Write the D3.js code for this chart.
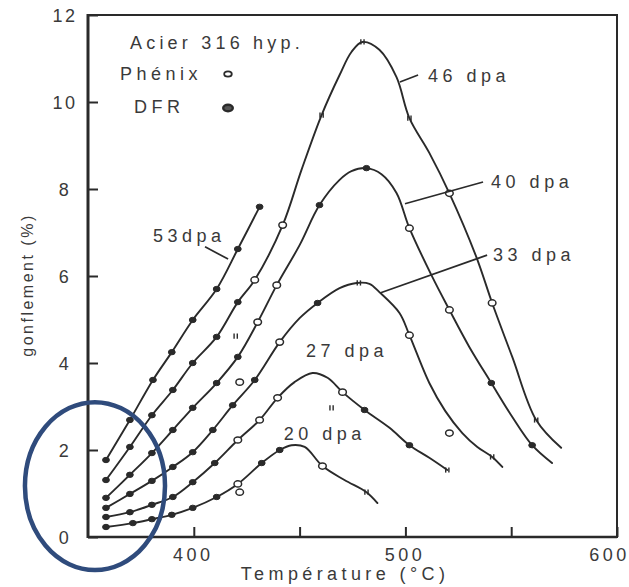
<!DOCTYPE html>
<html>
<head>
<meta charset="utf-8">
<script src="https://cdn.jsdelivr.net/npm/d3@7"></script>
<style>
  html, body { margin: 0; padding: 0; background: #fff; }
  svg { display: block; }
  text { font-family: "Liberation Sans", Arial, Helvetica, sans-serif; fill: #3a3a3a; }
</style>
</head>
<body>
<svg id="chart" width="629" height="587"></svg>
<script>
// ---- axes ----
const xDomain = [350, 600];
const yDomain = [0, 12];
const xTickValues = [400, 450, 500, 550, 600];
const xTickLabels = [400, 500, 600];
const yTickValues = [0, 2, 4, 6, 8, 10, 12];
const xTitle = "Température (°C)";
const yTitle = "gonflement (%)";

// ---- swelling curves: temperature (°C), swelling (%) ----
const names = ["53dpa", "46 dpa", "40 dpa", "33 dpa", "27 dpa", "20 dpa"];

const fit53 = [[358.5,1.77],[369.8,2.69],[380.7,3.61],[389.6,4.25],[399.5,4.99],[410.8,5.70],[420.8,6.62],[431.1,7.59]];
const fit46 = [[358.5,1.31],[369.8,2.07],[380.2,2.80],[390.1,3.38],[399.5,4.00],[410.8,4.60],[420.8,5.40],[428.8,5.91],[442.0,7.17],[450.9,8.44],[460.4,9.70],[468.9,10.62],[474.5,11.15],[479.7,11.38],[487.7,11.20],[495.8,10.57],[501.9,9.63],[511.3,8.83],[520.8,7.90],[533.5,6.44],[541.0,5.38],[550.5,4.14],[561.8,2.69],[573.6,2.05]];
const fit40 = [[358.5,0.90],[369.8,1.43],[380.2,1.93],[390.1,2.46],[399.5,2.97],[410.8,3.54],[420.8,4.14],[430.2,4.94],[439.2,5.79],[450.0,6.71],[459.4,7.63],[468.9,8.21],[474.5,8.41],[481.6,8.48],[488.7,8.34],[495.8,7.91],[501.9,7.10],[512.3,6.02],[520.8,5.22],[530.2,4.37],[540.6,3.54],[550.0,2.80],[559.9,2.11],[569.3,1.70]];
const fit33 = [[358.5,0.67],[369.8,0.99],[380.2,1.29],[390.1,1.61],[399.5,1.95],[409.0,2.46],[418.4,3.03],[428.8,3.61],[440.6,4.48],[450.0,5.03],[458.5,5.38],[468.9,5.72],[476.9,5.84],[483.0,5.82],[487.7,5.63],[497.2,5.15],[501.9,4.64],[511.3,3.54],[518.8,2.90],[526.9,2.39],[534.0,2.07],[541.0,1.84],[545.8,1.61]];
const fit27 = [[358.5,0.46],[369.8,0.57],[380.2,0.74],[390.1,0.92],[399.5,1.26],[409.9,1.70],[420.8,2.23],[431.1,2.69],[439.6,3.20],[447.6,3.56],[456.1,3.77],[463.2,3.66],[470.3,3.33],[480.7,2.92],[492.5,2.51],[501.9,2.11],[511.3,1.82],[519.8,1.54]];
const fit20 = [[358.5,0.23],[371.2,0.32],[380.2,0.41],[389.6,0.51],[399.5,0.67],[410.8,0.92],[420.8,1.22],[432.1,1.70],[440.6,2.00],[446.2,2.11],[452.4,2.07],[460.8,1.63],[471.2,1.31],[481.6,1.03],[486.8,0.78]];

// ---- measured points: temperature, swelling, kind (D = DFR, P = Phénix, T = tick mark) ----
const pts53 = [[358.5,1.77,"D"],[369.8,2.69,"D"],[380.7,3.61,"D"],[389.6,4.25,"D"],[399.5,4.99,"D"],[410.8,5.70,"D"],[420.8,6.62,"D"],[431.1,7.59,"D"]];
const pts46 = [[358.5,1.31,"D"],[369.8,2.07,"D"],[380.2,2.80,"D"],[390.1,3.38,"D"],[399.5,4.00,"D"],[410.8,4.60,"D"],[420.8,5.40,"D"],[428.8,5.91,"P"],[442.0,7.17,"P"],[460.4,9.70,"T"],[479.7,11.38,"T"],[501.9,9.63,"T"],[520.8,7.90,"P"],[541.0,5.38,"P"],[561.8,2.69,"T"]];
const pts40 = [[358.5,0.90,"D"],[369.8,1.43,"D"],[380.2,1.93,"D"],[390.1,2.46,"D"],[399.5,2.97,"D"],[410.8,3.54,"D"],[420.8,4.14,"D"],[430.2,4.94,"P"],[439.2,5.79,"P"],[459.4,7.63,"D"],[481.6,8.48,"D"],[501.9,7.10,"P"],[520.8,5.22,"P"],[540.6,3.54,"D"],[559.9,2.11,"D"]];
const pts33 = [[358.5,0.67,"D"],[369.8,0.99,"D"],[380.2,1.29,"D"],[390.1,1.61,"D"],[399.5,1.95,"D"],[409.0,2.46,"D"],[418.4,3.03,"D"],[428.8,3.61,"D"],[440.6,4.48,"P"],[458.5,5.38,"D"],[478.0,5.84,"T"],[501.9,4.64,"P"],[541.0,1.84,"T"]];
const pts27 = [[358.5,0.46,"D"],[369.8,0.57,"D"],[380.2,0.74,"D"],[390.1,0.92,"D"],[399.5,1.26,"D"],[409.9,1.70,"D"],[420.8,2.23,"P"],[431.1,2.69,"P"],[439.6,3.20,"P"],[470.3,3.33,"P"],[480.7,2.92,"D"],[501.9,2.11,"D"],[519.8,1.54,"T"]];
const pts20 = [[358.5,0.23,"D"],[371.2,0.32,"D"],[380.2,0.41,"D"],[389.6,0.51,"D"],[399.5,0.67,"D"],[410.8,0.92,"D"],[420.8,1.22,"P"],[432.1,1.70,"D"],[440.6,2.00,"D"],[460.8,1.63,"P"],[481.6,1.03,"T"]];
const ptsLoose = [[419.8,4.62,"T"],[465.1,2.97,"T"],[520.8,2.39,"P"],[421.7,3.56,"P"],[421.7,1.03,"P"]];

// ---- curve labels: text start and leader line, in data units ----
const labelAt = [[380.7,6.78],[510.7,10.46],[540.5,8.02],[541.4,6.34],[453.0,4.14],[442.5,2.23]];
const leaders = [[[405.3,6.67],[416.2,6.39]], [[497.4,10.46],[506.0,10.62]], [[499.8,7.66],[536.7,8.16]], [[488.0,5.61],[538.6,6.48]], null, null];

// highlighted low-temperature zone (bounding box in data units)
const zone = { t0: 320.2, t1: 386.4, v0: -0.76, v1: 3.10 };

// ---- layout ----
const M = { left: 88, right: 617, top: 15, bottom: 537 };
const svg = d3.select("#chart");
const x = d3.scaleLinear().domain(xDomain).range([M.left, M.right]);
const y = d3.scaleLinear().domain(yDomain).range([M.bottom, M.top]);
const ink = "#2a2a2a";
const fontSize = 18;
const spacing = "4.5px";

// frame
svg.append("rect")
  .attr("x", M.left).attr("y", M.top)
  .attr("width", M.right - M.left).attr("height", M.bottom - M.top)
  .attr("fill", "none").attr("stroke", ink).attr("stroke-width", 2);
svg.append("line").attr("x1", M.left).attr("x2", M.left).attr("y1", M.top - 1).attr("y2", M.bottom + 1)
  .attr("stroke", ink).attr("stroke-width", 3);
svg.append("line").attr("x1", M.left).attr("x2", M.right).attr("y1", M.bottom).attr("y2", M.bottom)
  .attr("stroke", ink).attr("stroke-width", 2.6);

// y axis (inward ticks)
const yAxis = d3.axisLeft(y).tickValues(yTickValues).tickSizeInner(-10).tickSizeOuter(0)
  .tickFormat(d3.format("d"));
const gy = svg.append("g").attr("transform", `translate(${M.left},0)`).call(yAxis);
gy.select(".domain").remove();
gy.selectAll(".tick line").attr("stroke", ink).attr("stroke-width", 2);
gy.selectAll(".tick text").attr("x", -23).attr("text-anchor", "middle").attr("dy", "0.36em")
  .style("font-size", fontSize + "px").style("letter-spacing", "2.5px").attr("fill", "#3a3a3a");

// x axis (inward ticks)
const xAxis = d3.axisBottom(x).tickValues(xTickValues).tickSizeInner(-10).tickSizeOuter(0)
  .tickPadding(11).tickFormat(d => xTickLabels.includes(d) ? d : "");
const gx = svg.append("g").attr("transform", `translate(0,${M.bottom})`).call(xAxis);
gx.select(".domain").remove();
gx.selectAll(".tick line").attr("stroke", ink).attr("stroke-width", 2);
gx.selectAll(".tick text").style("font-size", fontSize + "px").style("letter-spacing", "3.5px")
  .attr("fill", "#3a3a3a")
  .attr("dx", d => d === xDomain[1] ? -8 : -1);

// axis titles
svg.append("text").attr("x", 345).attr("y", 580).attr("text-anchor", "middle")
  .style("font-size", fontSize + "px").style("letter-spacing", "4.4px").text(xTitle);
svg.append("text").attr("transform", "translate(33,285) rotate(-90)").attr("text-anchor", "middle")
  .style("font-size", "16px").style("letter-spacing", "2.5px").text(yTitle);

// curves
const line = d3.line().x(d => x(d[0])).y(d => y(d[1])).curve(d3.curveCatmullRom.alpha(0.5));
const fits = [fit53, fit46, fit40, fit33, fit27, fit20];
svg.append("g").selectAll("path").data(fits).join("path")
  .attr("d", line).attr("fill", "none").attr("stroke", ink).attr("stroke-width", 1.9)
  .attr("stroke-linejoin", "round").attr("stroke-linecap", "round");

// measured points
function drawMarker(g, d) {
  const cx = x(d[0]), cy = y(d[1]);
  if (d[2] === "D") {
    g.append("ellipse").attr("cx", cx).attr("cy", cy).attr("rx", 3.4).attr("ry", 2.7)
      .attr("fill", ink).attr("stroke", ink).attr("stroke-width", 1);
  } else if (d[2] === "P") {
    g.append("ellipse").attr("cx", cx).attr("cy", cy).attr("rx", 3.8).attr("ry", 3.1)
      .attr("fill", "#fff").attr("stroke", ink).attr("stroke-width", 1.5);
  } else {
    [-1.6, 1.6].forEach(o => g.append("line")
      .attr("x1", cx + o).attr("x2", cx + o).attr("y1", cy - 2.6).attr("y2", cy + 2.6)
      .attr("stroke", ink).attr("stroke-width", 1.4));
  }
}
const gm = svg.append("g");
[pts53, pts46, pts40, pts33, pts27, pts20, ptsLoose].forEach(arr => arr.forEach(d => drawMarker(gm, d)));

// curve labels and leaders
names.forEach((n, i) => {
  svg.append("text").attr("x", x(labelAt[i][0])).attr("y", y(labelAt[i][1]))
    .style("font-size", fontSize + "px").style("letter-spacing", spacing).text(n);
  if (leaders[i]) {
    svg.append("line")
      .attr("x1", x(leaders[i][0][0])).attr("y1", y(leaders[i][0][1]))
      .attr("x2", x(leaders[i][1][0])).attr("y2", y(leaders[i][1][1]))
      .attr("stroke", ink).attr("stroke-width", 1.7);
  }
});

// legend
const legend = svg.append("g");
legend.append("text").attr("x", 130).attr("y", 49).style("font-size", fontSize + "px")
  .style("letter-spacing", "4.2px").text("Acier 316 hyp.");
legend.append("text").attr("x", 120).attr("y", 80).style("font-size", fontSize + "px")
  .style("letter-spacing", spacing).text("Phénix");
legend.append("text").attr("x", 134).attr("y", 113).style("font-size", fontSize + "px")
  .style("letter-spacing", spacing).text("DFR");
legend.append("ellipse").attr("cx", 228).attr("cy", 74).attr("rx", 3.8).attr("ry", 2.6)
  .attr("fill", "#fff").attr("stroke", ink).attr("stroke-width", 1.8);
legend.append("ellipse").attr("cx", 228).attr("cy", 108).attr("rx", 4.8).attr("ry", 3.2)
  .attr("fill", "#555").attr("stroke", ink).attr("stroke-width", 2.4);

// highlight ellipse around the low-temperature start of the curves
svg.append("ellipse")
  .attr("cx", (x(zone.t0) + x(zone.t1)) / 2).attr("cy", (y(zone.v0) + y(zone.v1)) / 2)
  .attr("rx", (x(zone.t1) - x(zone.t0)) / 2).attr("ry", (y(zone.v0) - y(zone.v1)) / 2)
  .attr("fill", "none").attr("stroke", "#2f4b7c").attr("stroke-width", 4.5);
</script>
</body>
</html>
